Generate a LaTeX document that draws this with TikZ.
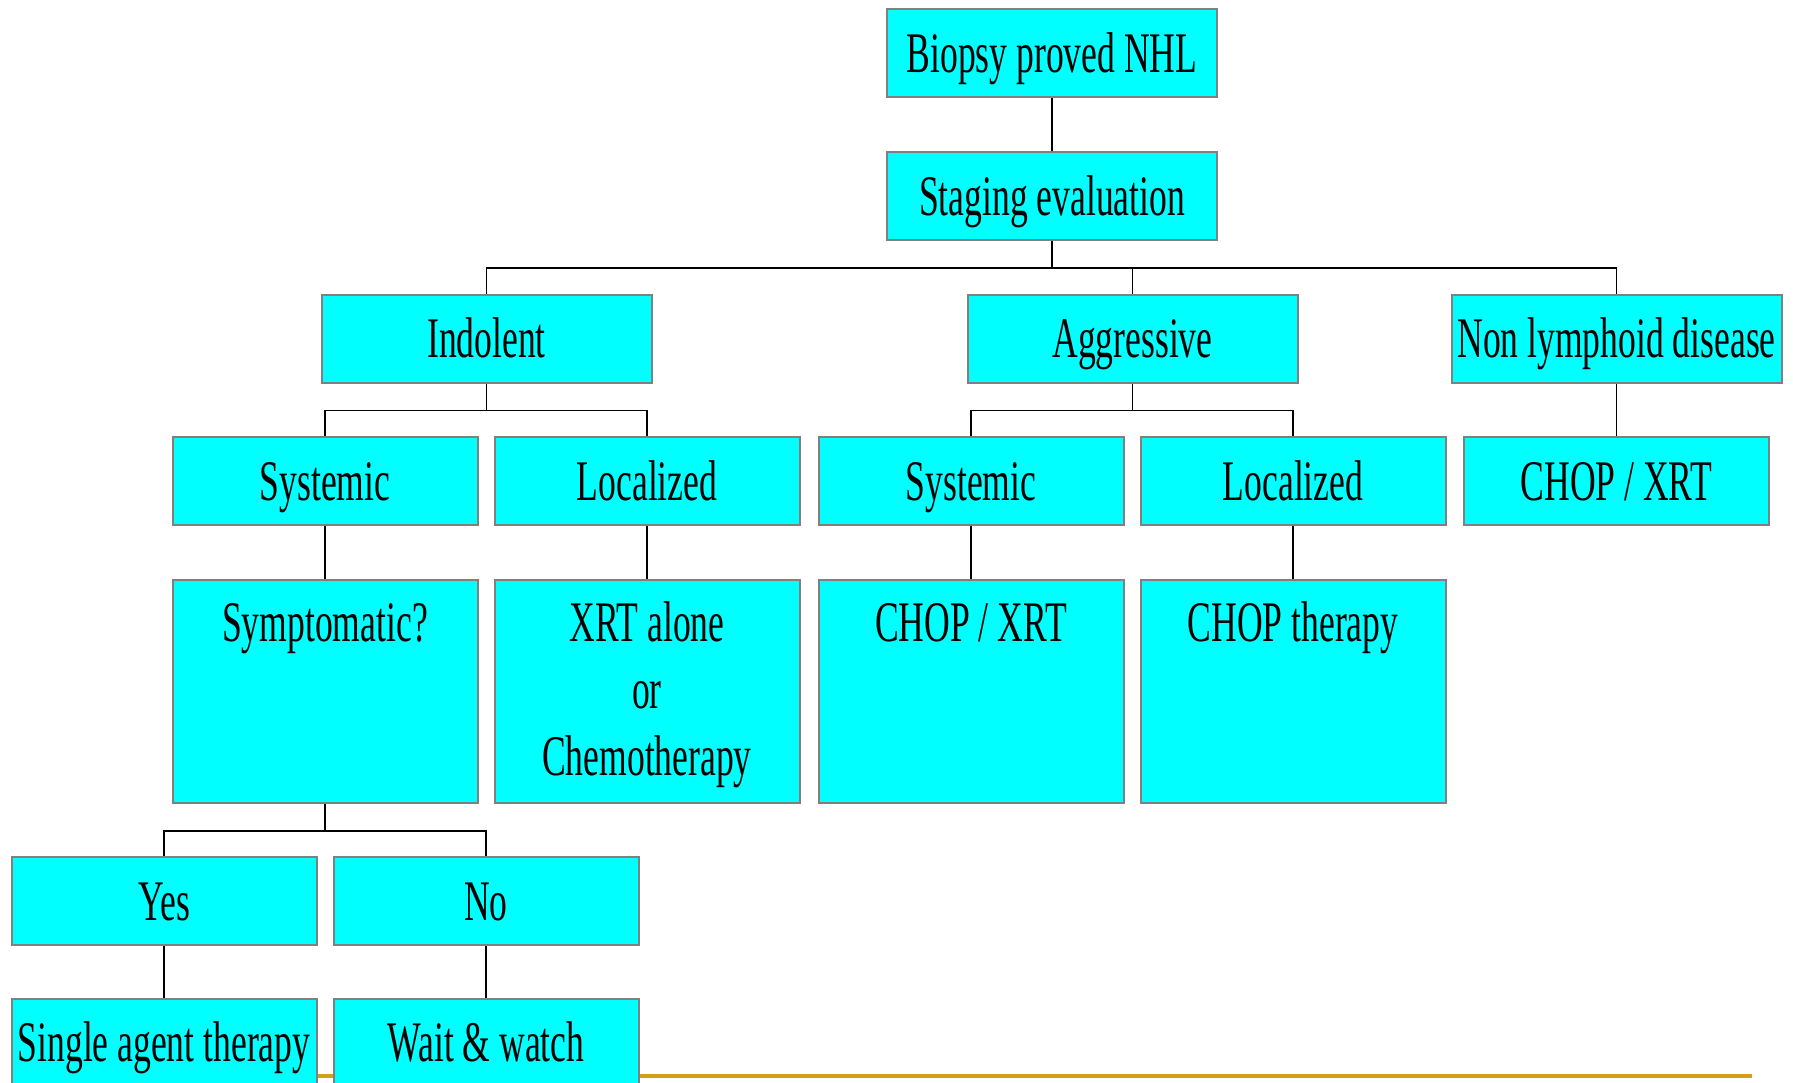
\documentclass[tikz,border=0pt]{standalone}
\usepackage{fontspec}
\setmainfont{Liberation Serif}[FakeStretch=0.62]
\definecolor{boxfill}{RGB}{0,255,255}
\definecolor{boxline}{RGB}{128,128,128}
\definecolor{rulegold}{RGB}{212,160,23}
\newcommand{\topcell}[1]{\parbox[c][111.5pt][t]{150pt}{\centering\rule{0pt}{30.5pt}#1}}

\begin{document}
\begin{tikzpicture}[x=0.5pt,y=-0.5pt,
			cell/.style = {rectangle,draw=boxline,fill=boxfill,line width=1pt,inner sep=0pt,minimum width=152.5pt,font=\fontsize{28.7}{33.5}\selectfont},
			box/.style = {cell,minimum height=44pt,text height=19pt,text depth=0pt},
			widebox/.style = {box,minimum width=165pt},
			tallbox/.style = {cell,minimum height=111.5pt},
			link/.style = {draw=black,line width=0.8pt}]

\clip (0,0) rectangle (1793,1082);
\draw[rulegold,line width=2pt] (20,1076) -- (1752,1076);

\node[widebox] (biopsy) at (1052,53) {Biopsy proved NHL};
\node[widebox] (staging) at (1052,196) {Staging evaluation};

\node[widebox] (indolent) at (486.5,338.5) {Indolent};
\node[widebox] (aggressive) at (1132.5,338.5) {Aggressive};
\node[widebox] (nonlymph) at (1616.5,338.5) {Non lymphoid disease};

\node[box] (indsys) at (325,481) {Systemic};
\node[box] (indloc) at (647,481) {Localized};
\node[box] (aggsys) at (971,481) {Systemic};
\node[box] (aggloc) at (1293,481) {Localized};
\node[box] (nonchop) at (1616.5,481) {CHOP / XRT};

\node[tallbox] (symptom) at (325,691.5) {\topcell{Symptomatic?}};
\node[tallbox] (xrt) at (647,691.5) {\topcell{XRT alone\\or\\Chemotherapy}};
\node[tallbox] (aggchop) at (971,691.5) {\topcell{CHOP / XRT}};
\node[tallbox] (chopther) at (1293,691.5) {\topcell{CHOP therapy}};

\node[box] (yes) at (164,901) {Yes};
\node[box] (no) at (486,901) {No};

\node[box] (single) at (164,1042.5) {Single agent therapy};
\node[box] (wait) at (486,1042.5) {Wait \& watch};

\draw[link] (biopsy) -- (staging);

\draw[link] (staging.south) -- +(0,27) -| (indolent.north);
\draw[link] (staging.south) -- +(0,27) -| (aggressive.north);
\draw[link] (staging.south) -- +(0,27) -| (nonlymph.north);

\draw[link] (indolent.south) -- +(0,27) -| (indsys.north);
\draw[link] (indolent.south) -- +(0,27) -| (indloc.north);
\draw[link] (aggressive.south) -- +(0,27) -| (aggsys.north);
\draw[link] (aggressive.south) -- +(0,27) -| (aggloc.north);
\draw[link] (nonlymph) -- (nonchop);

\draw[link] (indsys) -- (symptom);
\draw[link] (indloc) -- (xrt);
\draw[link] (aggsys) -- (aggchop);
\draw[link] (aggloc) -- (chopther);

\draw[link] (symptom.south) -- +(0,27) -| (yes.north);
\draw[link] (symptom.south) -- +(0,27) -| (no.north);

\draw[link] (yes) -- (single);
\draw[link] (no) -- (wait);

\end{tikzpicture}
\end{document}
